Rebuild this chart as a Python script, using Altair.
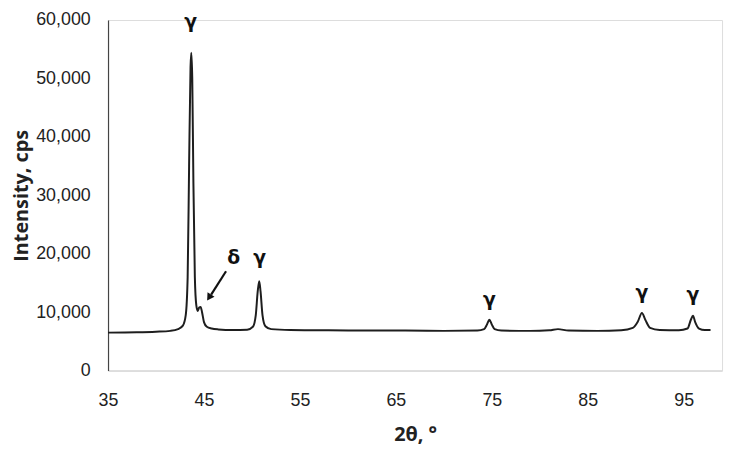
import altair as alt
import pandas as pd

# XRD pattern (2θ in degrees, intensity in cps)
two_theta = [35, 38, 40, 41.5, 42.3, 42.8, 43.1, 43.3, 43.45, 43.6, 43.68, 43.78, 43.9,
             44.05, 44.2, 44.35, 44.5, 44.65, 44.8, 45.0, 45.3, 45.8, 46.5, 48, 49.5,
             50.1, 50.4, 50.6, 50.76, 50.9, 51.1, 51.4, 52, 54, 58, 62, 66, 70, 73.5,
             74.2, 74.5, 74.75, 75.0, 75.3, 76, 79, 81, 81.9, 83, 86, 88.5, 89.7, 90.2,
             90.65, 91.0, 91.5, 92.5, 94.5, 95.4, 95.75, 95.97, 96.2, 96.6, 97.2, 97.8]
intensity = [6500, 6550, 6650, 6800, 7100, 7700, 9500, 16000, 35000, 52000, 54400, 50000, 32000,
             16000, 11200, 10200, 10800, 10900, 10000, 8300, 7500, 7200, 7050, 6950, 7000,
             7500, 9500, 13500, 15300, 13500, 9500, 7600, 7100, 6950, 6900, 6850, 6850, 6800, 6850,
             7100, 7900, 8700, 7900, 7100, 6850, 6800, 6900, 7100, 6850, 6800, 6900, 7300, 8300,
             9850, 8700, 7300, 6950, 6900, 7200, 8700, 9400, 8300, 7200, 6950, 6950]

# Phase annotations
label_text = ["γ", "δ", "γ", "γ", "γ", "γ"]
label_x = [43.6, 48.1, 50.8, 74.75, 90.65, 95.97]
label_y = [59700, 19300, 19300, 12100, 13300, 12950]

# Arrow from the δ label to the shoulder
arrow_x = [47.3]
arrow_y = [17000]
arrow_x2 = [45.75]
arrow_y2 = [13000]
head_x = [45.6]
head_y = [12700]

x_ticks = [35, 45, 55, 65, 75, 85, 95]
y_ticks = [0, 10000, 20000, 30000, 40000, 50000, 60000]

df = pd.DataFrame({"x": two_theta, "y": intensity})
labels = pd.DataFrame({"t": label_text, "x": label_x, "y": label_y})
arrow = pd.DataFrame({"x": arrow_x, "y": arrow_y, "x2": arrow_x2, "y2": arrow_y2})
head = pd.DataFrame({"x": head_x, "y": head_y})

xs = alt.Scale(domain=[35, 99], nice=False, zero=False)
ys = alt.Scale(domain=[0, 60000], nice=False)

line = alt.Chart(df).mark_line(color="#1e1e1e", strokeWidth=2, interpolate="monotone").encode(
    x=alt.X("x:Q", scale=xs, title="2θ, °",
            axis=alt.Axis(values=x_ticks, ticks=False, grid=False, labelFlush=False,
                          domainColor="#d9d9d9", domainWidth=1.5,
                          labelFont="Liberation Sans", labelFontSize=18, labelColor="#222222",
                          labelPadding=21, titleFont="Open Sans", titleFontWeight="bold",
                          titleFontSize=20, titleColor="#222222", titlePadding=16)),
    y=alt.Y("y:Q", scale=ys, title="Intensity, cps",
            axis=alt.Axis(values=y_ticks, format=",.0f",
                          ticks=False, grid=False, domainColor="#444444", domainWidth=1.2,
                          labelFont="Liberation Sans", labelFontSize=18, labelColor="#222222",
                          labelPadding=18, titleFont="Open Sans", titleFontWeight="bold",
                          titleFontSize=20, titleColor="#222222", titlePadding=4)),
)

text = alt.Chart(labels).mark_text(font="DejaVu Sans", fontWeight="bold", fontSize=19,
                                   color="#111111", baseline="middle").encode(
    x=alt.X("x:Q", scale=xs), y=alt.Y("y:Q", scale=ys), text="t:N")

rule = alt.Chart(arrow).mark_rule(color="#111111", strokeWidth=2.2).encode(
    x=alt.X("x:Q", scale=xs), y=alt.Y("y:Q", scale=ys),
    x2="x2:Q", y2="y2:Q")

tip = alt.Chart(head).mark_point(shape="triangle", filled=True, size=70, color="#111111",
                                  opacity=1, angle=213).encode(
    x=alt.X("x:Q", scale=xs), y=alt.Y("y:Q", scale=ys))

chart = alt.layer(line, text, rule, tip).properties(
    width=620, height=354,
    autosize=alt.AutoSizeParams(type="none"),
    padding={"left": 101, "top": 10, "right": 5, "bottom": 74},
).configure_view(stroke=None).configure(background="white")

chart.save("out.html", embed_options={"renderer": "svg", "actions": False})
